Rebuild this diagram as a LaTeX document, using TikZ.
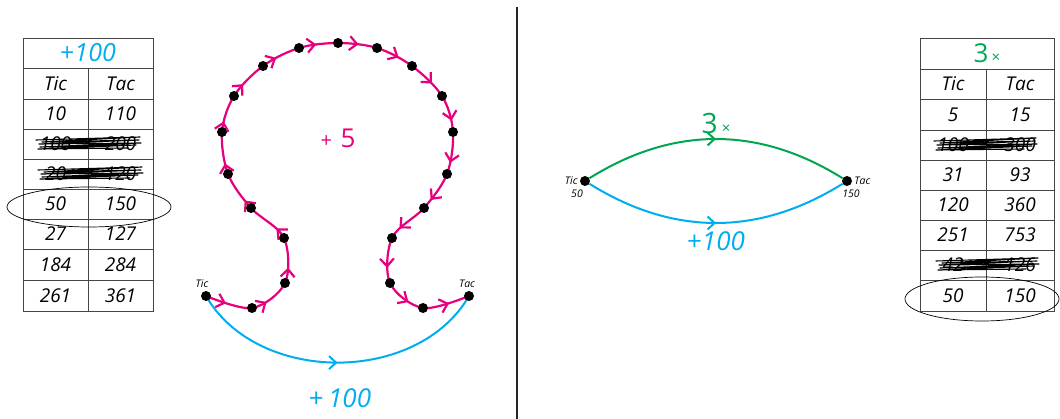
\documentclass[tikz,border=0pt]{standalone}
\usepackage{fontspec}
\setmainfont{Open Sans}
\usepackage{tikz}
\usetikzlibrary{arrows.meta,positioning,calc,decorations.markings}
\definecolor{loopmagenta}{RGB}{230,0,126}
\definecolor{addcyan}{RGB}{0,174,239}
\definecolor{timesgreen}{RGB}{0,166,81}
\definecolor{gridgray}{RGB}{70,70,70}
\tikzset{
  cell/.style={inner sep=0pt,font=\fontsize{19}{19}\selectfont\itshape},
  tag/.style={inner sep=1pt,font=\fontsize{10.5}{11}\selectfont\itshape},
  biglabel/.style={inner sep=0pt,font=\fontsize{26}{26}\selectfont\itshape},
  dot/.style={circle,fill=black,inner sep=0pt,minimum size=10pt},
  grid/.style={draw=gridgray,line width=0.8pt},
  ring/.style={draw=black,line width=0.7pt},
  scribble/.style={line width=1.1pt,line join=round,line cap=round},
  divider/.style={line width=2pt,draw=black!85},
  hop/.style={draw=loopmagenta,line width=2.2pt},
  addpath/.style={draw=addcyan,line width=2pt},
  timespath/.style={draw=timesgreen,line width=2pt},
  midarrow/.style={postaction={decorate},decoration={markings,
    mark=at position 0.5 with {\arrow{Straight Barb[length=7pt,width=13pt]}}}},
  looparrows/.style={postaction={decorate},decoration={markings,
    mark=between positions 0.025 and 0.99 step 0.05 with {\arrow{Straight Barb[length=7.5pt,width=14pt]}}}}
}
% scrawl over a crossed-out row: left x, right x, centre y
\newcommand{\scrawl}[3]{%
  \draw[scribble] (#1,#3-4) -- (#2,#3-7) -- (#1+6,#3-2) -- (#2-1,#3-4)
    -- (#1+3,#3) -- (#2+1,#3-1) -- (#1+4,#3+3) -- (#2-4,#3+1)
    -- (#1+2,#3+5) -- (#2-12,#3+4);}

\begin{document}
\begin{tikzpicture}[x=1pt,y=-1pt]
\useasboundingbox (0,0) rectangle (1060,419);

% left table (+100)
\draw[grid] (23,38) rectangle (153,311);
\foreach \y in {68,99,129,159,189,219,249,280} \draw[grid] (23,\y) -- (153,\y);
\draw[grid] (88,68) -- (88,311);
\node[cell,text=addcyan,font=\fontsize{25}{25}\selectfont\itshape] (lhead) at (88,53)
  {{\upshape+}100};
\foreach \a/\b/\y [count=\i] in {Tic/Tac/84, 10/110/114, 100/200/144, 20/120/174,
    50/150/204, 27/127/234, 184/284/264.5, 261/361/295.5} {
  \node[cell] (l\i a) at (55.5,\y) {\a};
  \node[cell] (l\i b) at (120.5,\y) {\b};
}
\scrawl{36}{140}{144}
\scrawl{38}{142}{174}
\draw[ring] (89,207) ellipse [x radius=82pt,y radius=20pt];

% right table (3x)
\draw[grid] (920,38) rectangle (1054,311);
\foreach \y in {69,99,130,160,190,220,250,280} \draw[grid] (920,\y) -- (1054,\y);
\draw[grid] (986,69) -- (986,311);
\node[cell,text=timesgreen] (rhead) at (987,53)
  {{\upshape\fontsize{26}{26}\selectfont 3}\,{\upshape\fontsize{15}{15}\selectfont ×}};
\foreach \a/\b/\y [count=\i] in {Tic/Tac/84, 5/15/114.5, 100/300/145, 31/93/175,
    120/360/205, 251/753/235, 42/126/265, 50/150/295.5} {
  \node[cell] (r\i a) at (953,\y) {\a};
  \node[cell] (r\i b) at (1020,\y) {\b};
}
\scrawl{934}{1036}{145}
\scrawl{936}{1038}{265}
\draw[ring] (982,299) ellipse [x radius=77pt,y radius=22pt];

% divider
\draw[divider] (517,7) -- (517,419);

% the +5 loop
\foreach \x/\y [count=\i from 0] in {206/296, 252/308, 285/283, 284/238, 251/208,
    228/174, 222/132, 234/96, 263/66, 299/48, 338/43, 377/48, 412/66, 442/96,
    453/132, 447/174, 424/208, 392/238, 390/283, 423/308, 469/296}
  \coordinate (p\i) at (\x,\y);
\draw[hop,looparrows] plot[smooth,tension=0.55] coordinates {(p0) (p1) (p2) (p3)
  (p4) (p5) (p6) (p7) (p8) (p9) (p10) (p11) (p12) (p13) (p14) (p15) (p16) (p17)
  (p18) (p19) (p20)};
\draw[addpath,midarrow] (p0) to[out=-60,in=240] (p20);
\foreach \i in {0,...,20} \node[dot] (d\i) at (p\i) {};
\node[tag,above=2pt of d0,xshift=-4pt] (ltic) {Tic};
\node[tag,above=2pt of d20,xshift=-2pt] (ltac) {Tac};
\node[biglabel,text=loopmagenta] (plusfive) at (338,138)
  {{\fontsize{20}{20}\selectfont\upshape+}\,\,{\upshape 5}};
\node[biglabel,text=addcyan] (plushundred) at (340,398) {{\upshape+}\,100};

% Tic and Tac with two rules
\node[dot] (tic) at (585,181) {};
\node[dot] (tac) at (847,181) {};
\draw[timespath,midarrow] (tic) to[out=32,in=148] (tac);
\draw[addpath,midarrow] (tic) to[out=-32,in=-148] (tac);
\node[tag,left=1pt of tic] (rtic) {Tic};
\node[tag,below=2pt of tic,xshift=-8pt] (ticval) {50};
\node[tag,right=1pt of tac] (rtac) {Tac};
\node[tag,below=2pt of tac,xshift=4pt] (tacval) {150};
\node[biglabel,text=timesgreen] (timesthree) at (716,124)
  {{\upshape\fontsize{28}{28}\selectfont 3}\,{\upshape\fontsize{15}{15}\selectfont ×}};
\node[biglabel,text=addcyan] (addhundred) at (716,241) {{\upshape+}100};
\end{tikzpicture}
\end{document}
